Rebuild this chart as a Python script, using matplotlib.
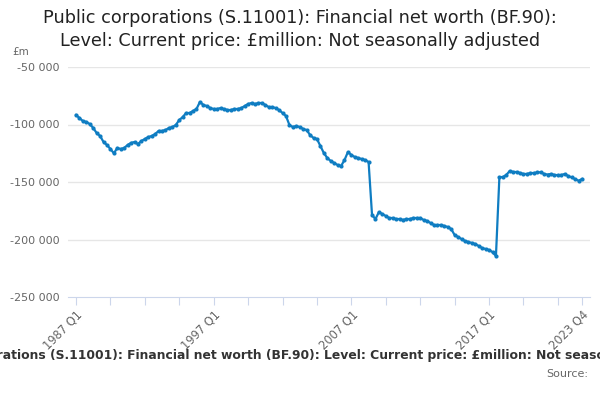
import matplotlib
matplotlib.use("Agg")
import matplotlib.pyplot as plt

title = "Public corporations (S.11001): Financial net worth (BF.90):\nLevel: Current price: £million: Not seasonally adjusted"
subtitle = "Public corporations (S.11001): Financial net worth (BF.90): Level: Current price: £million: Not seasonally adjusted"
start_year = 1987
n_quarters = 148
quarters = [f"{start_year + i // 4} Q{i % 4 + 1}" for i in range(n_quarters)]

values = [
    -91700, -94300, -97000, -97800, -99600, -103000, -107400, -110000, -115200, -117800,
    -121300, -125000, -120400, -121300, -120400, -117800, -116000, -115200, -117000, -114300,
    -112600, -110900, -110000, -108300, -105600, -105600, -104800, -103000, -102200, -100400,
    -96100, -93500, -90000, -90000, -88300, -86500, -80400, -83000, -83900, -85700,
    -86500, -86500, -85700, -86500, -87400, -87400, -86500, -86500, -85700, -83900,
    -82200, -81300, -82200, -81300, -81300, -83000, -84800, -84800, -85700, -87400,
    -90000, -92600, -100400, -102200, -101300, -102200, -103900, -104800, -109100, -111700,
    -112600, -118700, -124800, -129100, -131700, -133500, -135200, -136100, -130900, -123900,
    -126500, -128300, -129100, -130000, -130900, -132600, -178700, -182200, -176100, -177800,
    -179600, -181300, -181300, -182200, -182200, -183000, -182200, -182200, -181300, -181300,
    -181300, -183000, -183900, -185700, -187400, -187400, -187400, -188300, -189100, -190900,
    -196100, -197800, -199600, -201300, -202200, -203000, -203900, -205700, -207400, -208300,
    -209100, -210900, -214400, -145700, -145700, -143900, -140400, -141300, -141300, -142200,
    -143000, -143000, -142200, -142200, -141700, -141500, -143000, -143500, -143000, -143900,
    -144000, -143900, -143000, -144800, -146000, -147400, -148900, -147400,
]

y_ticks = [-250000, -200000, -150000, -100000, -50000]
y_labels = ["-250 000", "-200 000", "-150 000", "-100 000", "-50 000"]
label_idx = [0, 40, 80, 120, 147]

fig = plt.figure(figsize=(6, 4), dpi=100)
ax = fig.add_axes([68/600, 1-297/400, (590-68)/600, (297-67)/400])
x = list(range(n_quarters))
ax.plot(x, values, color="#0f7dc2", lw=1.6, marker="o", ms=3.0, mew=0, zorder=3, clip_on=False)

ax.set_ylim(-250000, -50000)
ax.set_xlim(-8/3.442, 147 + 8/3.442)
ax.set_yticks(y_ticks)
ax.set_yticklabels(y_labels)
ax.tick_params(axis="y", length=0, labelsize=8, labelcolor="#666666", pad=6)
for yt in y_ticks[1:]:
    ax.axhline(yt, color="#e6e6e6", lw=1, zorder=1)

tick_pos = list(range(0, 141, 10)) + [147]
ax.set_xticks(tick_pos)
ax.set_xticklabels([quarters[i] if i in label_idx else "" for i in tick_pos],
                   rotation=45, ha="right", va="top", rotation_mode="anchor")
ax.tick_params(axis="x", length=6, color="#ccd6eb", labelsize=8.3, labelcolor="#666666", pad=2)
for s in ["top", "right", "left"]:
    ax.spines[s].set_visible(False)
ax.spines["bottom"].set_color("#ccd6eb")

fig.text(0.5, 1-9/400, title, ha="center", va="top", fontsize=12.7, color="#222222", linespacing=1.35)
fig.text(12/600, 1-52/400, "£m", ha="left", va="center", fontsize=7.5, color="#666666")
fig.text(307/600, 1-356/400, subtitle, ha="center", va="center", fontsize=8.9, fontweight="bold", color="#333333")
fig.text(588/600, 1-374/400, "Source:", ha="right", va="center", fontsize=8, color="#666666")

fig.savefig("out.png", dpi=100)
